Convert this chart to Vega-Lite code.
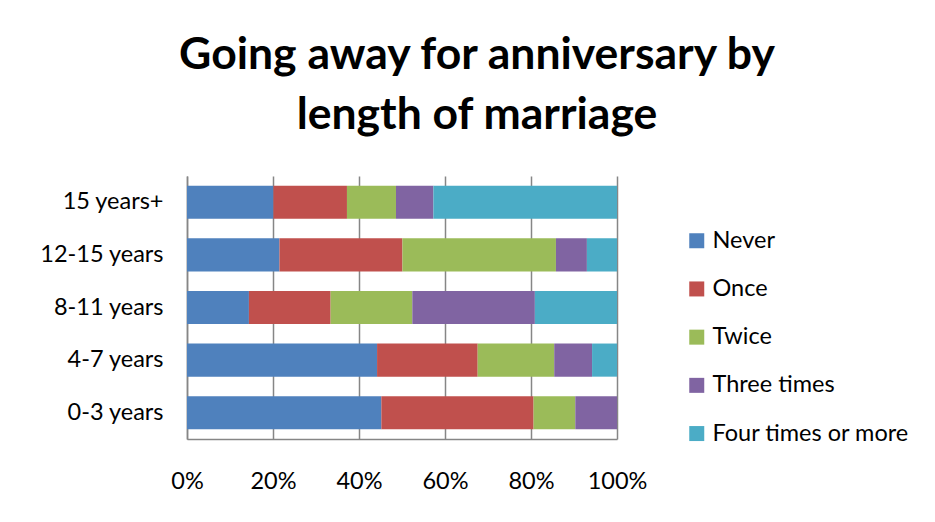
{
  "$schema": "https://vega.github.io/schema/vega-lite/v6.json",
  "width": 430,
  "height": 263,
  "autosize": {"type": "none"},
  "padding": {"left": 187, "top": 176, "right": 318, "bottom": 83},
  "background": "white",
  "title": {
    "text": ["Going away for anniversary by", "length of marriage"],
    "font": "Lato",
    "fontSize": 44.5,
    "fontWeight": "bold",
    "color": "#000000",
    "anchor": "middle",
    "dx": 75,
    "lineHeight": 60,
    "offset": 38
  },
  "data": {
    "values": [
      {"group": "15 years+", "answer": "Never", "k": 1, "pct": 20.1},
      {"group": "15 years+", "answer": "Once", "k": 2, "pct": 17.1},
      {"group": "15 years+", "answer": "Twice", "k": 3, "pct": 11.4},
      {"group": "15 years+", "answer": "Three times", "k": 4, "pct": 8.7},
      {"group": "15 years+", "answer": "Four times or more", "k": 5, "pct": 42.7},
      {"group": "12-15 years", "answer": "Never", "k": 1, "pct": 21.5},
      {"group": "12-15 years", "answer": "Once", "k": 2, "pct": 28.6},
      {"group": "12-15 years", "answer": "Twice", "k": 3, "pct": 35.7},
      {"group": "12-15 years", "answer": "Three times", "k": 4, "pct": 7.2},
      {"group": "12-15 years", "answer": "Four times or more", "k": 5, "pct": 7.0},
      {"group": "8-11 years", "answer": "Never", "k": 1, "pct": 14.4},
      {"group": "8-11 years", "answer": "Once", "k": 2, "pct": 19.0},
      {"group": "8-11 years", "answer": "Twice", "k": 3, "pct": 19.0},
      {"group": "8-11 years", "answer": "Three times", "k": 4, "pct": 28.5},
      {"group": "8-11 years", "answer": "Four times or more", "k": 5, "pct": 19.1},
      {"group": "4-7 years", "answer": "Never", "k": 1, "pct": 44.2},
      {"group": "4-7 years", "answer": "Once", "k": 2, "pct": 23.4},
      {"group": "4-7 years", "answer": "Twice", "k": 3, "pct": 17.8},
      {"group": "4-7 years", "answer": "Three times", "k": 4, "pct": 8.8},
      {"group": "4-7 years", "answer": "Four times or more", "k": 5, "pct": 5.8},
      {"group": "0-3 years", "answer": "Never", "k": 1, "pct": 45.2},
      {"group": "0-3 years", "answer": "Once", "k": 2, "pct": 35.4},
      {"group": "0-3 years", "answer": "Twice", "k": 3, "pct": 9.7},
      {"group": "0-3 years", "answer": "Three times", "k": 4, "pct": 9.7},
      {"group": "0-3 years", "answer": "Four times or more", "k": 5, "pct": 0}
    ]
  },
  "mark": {"type": "bar"},
  "encoding": {
    "y": {
      "field": "group",
      "type": "nominal",
      "sort": ["15 years+", "12-15 years", "8-11 years", "4-7 years", "0-3 years"],
      "scale": {"paddingInner": 0.37, "paddingOuter": 0.185},
      "axis": {
        "title": null,
        "labelFont": "Lato",
        "labelFontSize": 23.5,
        "labelColor": "#000000",
        "labelPadding": 24,
        "ticks": false,
        "domainColor": "#868686",
        "domainWidth": 1.5,
        "grid": false
      }
    },
    "x": {
      "field": "pct",
      "type": "quantitative",
      "stack": "normalize",
      "scale": {"domain": [0, 1], "nice": false},
      "axis": {
        "title": null,
        "format": ".0%",
        "values": [0, 0.2, 0.4, 0.6, 0.8, 1],
        "labelFont": "Lato",
        "labelFontSize": 23.5,
        "labelColor": "#000000",
        "labelPadding": 30,
        "ticks": false,
        "domainColor": "#868686",
        "domainWidth": 1.5,
        "grid": true,
        "gridColor": "#868686",
        "gridWidth": 1.5,
        "labelFlush": false
      }
    },
    "color": {
      "field": "answer",
      "type": "nominal",
      "scale": {
        "domain": ["Never", "Once", "Twice", "Three times", "Four times or more"],
        "range": ["#4F81BD", "#C0504D", "#9BBB59", "#8064A2", "#4BACC6"]
      },
      "legend": {
        "title": null,
        "orient": "none",
        "legendX": 498,
        "legendY": 53,
        "symbolType": "square",
        "symbolSize": 225,
        "symbolStrokeWidth": 0,
        "labelFont": "Lato",
        "labelFontSize": 23.5,
        "labelColor": "#000000",
        "labelOffset": 4,
        "rowPadding": 23.2,
        "labelLimit": 400
      }
    },
    "order": {"field": "k", "type": "quantitative"}
  },
  "config": {
    "view": {"stroke": null}
  }
}
